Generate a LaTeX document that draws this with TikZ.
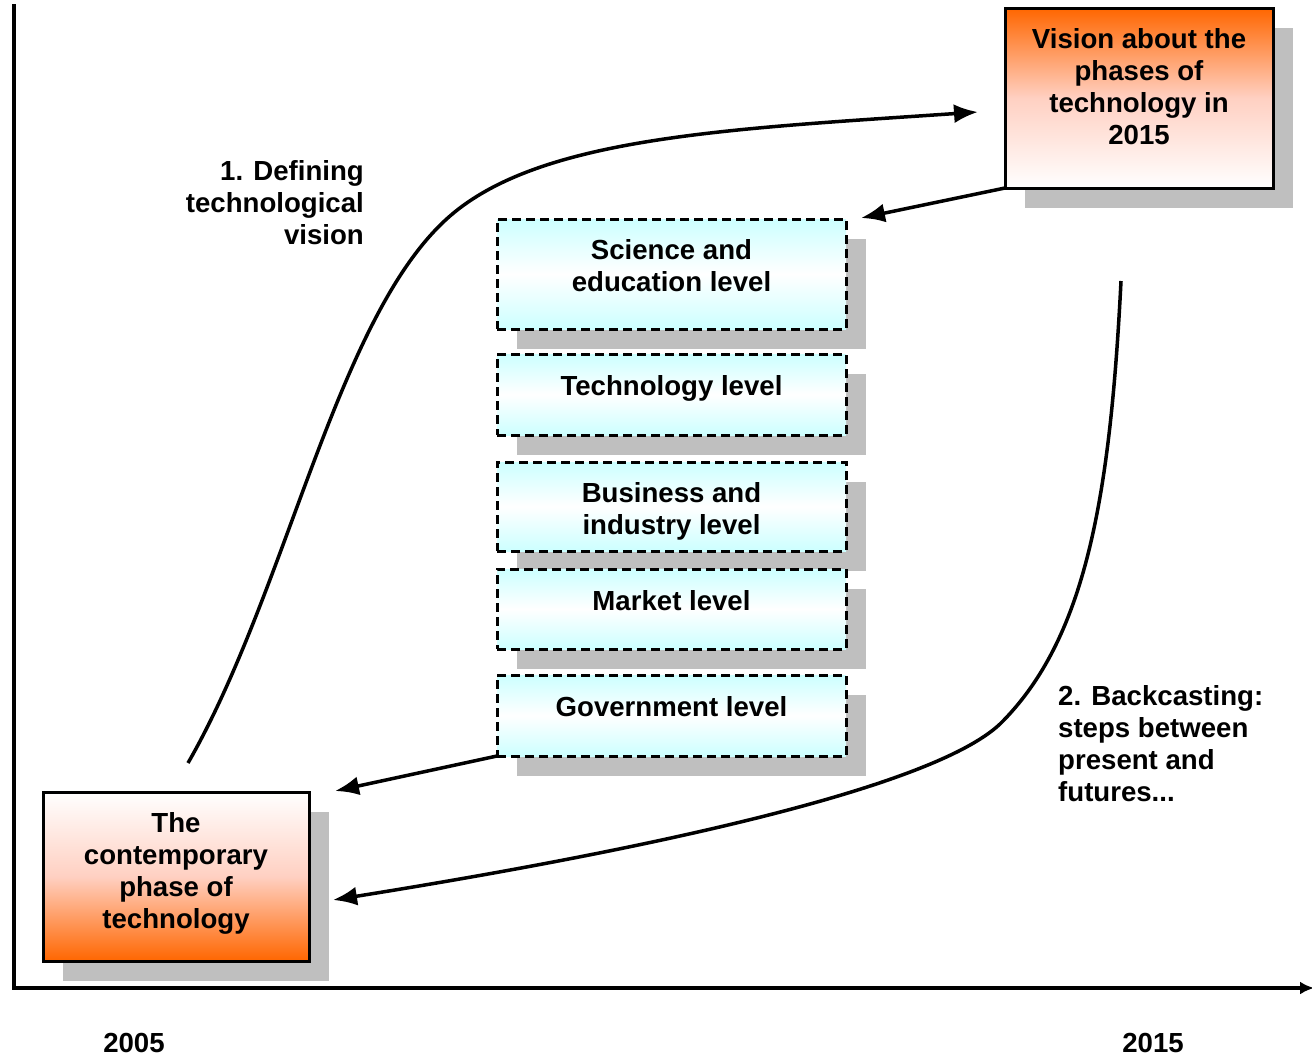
\documentclass[tikz,border=0pt]{standalone}
\usepackage{fontspec}
\setmainfont{Liberation Sans}
\usetikzlibrary{arrows.meta, shadows}
\definecolor{phaseorange}{RGB}{255,102,0}
\definecolor{phasepink}{RGB}{255,208,194}
\definecolor{levelcyan}{RGB}{204,255,255}

\begin{document}
\begin{tikzpicture}[x=1pt, y=-1pt,
		>={Latex[length=24pt,width=19pt]},   %Voreinstellung für Pfeilspitzen
		font=\fontsize{27.6}{32}\selectfont\bfseries,
		phasebox/.style={draw, line width=3pt, inner sep=0pt, outer sep=0pt,
			drop shadow={shadow xshift=20pt, shadow yshift=-20pt, fill=black!25, opacity=1}},
		levelbox/.style={draw, dash pattern=on 9pt off 5pt, line width=3pt,
			inner sep=0pt, outer sep=0pt, minimum width=349pt,
			top color=levelcyan, bottom color=levelcyan, middle color=white,
			drop shadow={shadow xshift=20pt, shadow yshift=-20pt, fill=black!25, opacity=1}},
		boxtext/.style={anchor=north, align=center, inner sep=0pt},
		flow/.style={->, line width=3.5pt}]
		\useasboundingbox (0,0) rectangle (1312,1058);
		% Achsen zeichnen
		\draw[line width=3.5pt] (14,4) -- (14,988);
		\draw[line width=3.5pt, -{Latex[length=14pt,width=13pt]}] (12,988) -- (1314,988);
		\node (y2005) at (134,1043) {2005};
		\node (y2015) at (1153,1043) {2015};
		% Phasen
		\node[phasebox, top color=phaseorange, bottom color=white, middle color=phasepink,
			minimum width=268pt, minimum height=180pt] (vision) at (1139,98) {};
		\node[boxtext] (visiontext) at ([yshift=-20pt]vision.north)
			{Vision about the\\phases of\\technology in\\2015};
		\node[phasebox, top color=white, bottom color=phaseorange, middle color=phasepink,
			minimum width=266pt, minimum height=169pt] (contemporary) at (176,876.5) {};
		\node[boxtext] (contemporarytext) at ([yshift=-20pt]contemporary.north)
			{The\\contemporary\\phase of\\technology};
		% Ebenen
		\node[levelbox, minimum height=110pt] (science) at (671.5,274) {};
		\node[levelbox, minimum height=81pt] (technology) at (671.5,394.5) {};
		\node[levelbox, minimum height=89pt] (business) at (671.5,506.5) {};
		\node[levelbox, minimum height=80pt] (market) at (671.5,609) {};
		\node[levelbox, minimum height=81pt] (government) at (671.5,715.5) {};
		\node[boxtext] (sciencetext) at ([yshift=-20pt]science.north) {Science and\\education level};
		\node[boxtext] (technologytext) at ([yshift=-21pt]technology.north) {Technology level};
		\node[boxtext] (businesstext) at ([yshift=-20pt]business.north) {Business and\\industry level};
		\node[boxtext] (markettext) at ([yshift=-21pt]market.north) {Market level};
		\node[boxtext] (governmenttext) at ([yshift=-21pt]government.north) {Government level};
		% Beschriftung der Kurven
		\node[anchor=north east, align=right, inner sep=0pt] (defining) at (364,160)
			{1. Defining\\technological\\vision};
		\node[anchor=north west, align=left, inner sep=0pt] (backcasting) at (1058,685)
			{2. Backcasting:\\steps between\\present and\\futures...};
		% Kurven und Pfeile
		\coordinate (visionstart) at (188,763);
		\coordinate (visionend) at (978,112);
		\draw[flow] (visionstart) .. controls (288,589) and (337,314) .. (450,216)
			.. controls (541,137) and (728,129) .. (visionend);
		\coordinate (backstart) at (1121,281);
		\coordinate (backend) at (333,900);
		\draw[flow] (backstart) .. controls (1110,500) and (1085,640) .. (1000,724)
			.. controls (930,790) and (633,852) .. (backend);
		\coordinate (sciencein) at (861,218);
		\draw[flow] (vision.south west) -- (sciencein);
		\coordinate (contemporaryin) at (335,791);
		\draw[flow] (government.south west) -- (contemporaryin);
	\end{tikzpicture}
\end{document}
